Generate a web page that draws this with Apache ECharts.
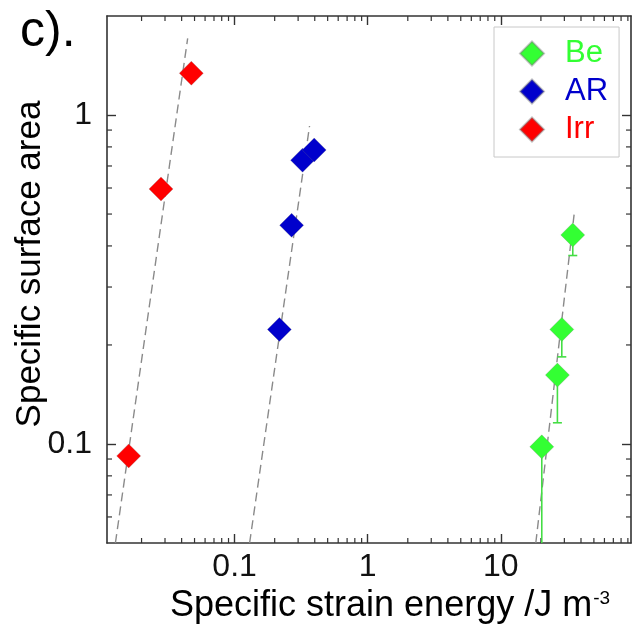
<!DOCTYPE html>
<html>
<head>
<meta charset="utf-8">
<script src="https://cdn.jsdelivr.net/npm/echarts@6/dist/echarts.min.js"></script>
<style>
  html, body { margin: 0; padding: 0; background: #fff; }
  #chart { width: 635px; height: 634px; }
</style>
</head>
<body>
<div id="chart"></div>
<script>
// Specific surface area vs specific strain energy (log-log)
const seriesNames = ['Be', 'AR', 'Irr'];

const beEnergy = [34.7, 28.7, 26.6, 20.3];
const beArea = [0.432, 0.223, 0.162, 0.098];
const beAreaLow = [0.374, 0.184, 0.116, 0.04];

const arEnergy = [0.217, 0.268, 0.324, 0.396];
const arArea = [0.223, 0.462, 0.729, 0.783];

const irrEnergy = [0.016, 0.028, 0.0473];
const irrArea = [0.092, 0.596, 1.34];

// power-law fit lines (end points)
const beFitEnergy = [18.3, 35.5];
const beFitArea = [0.05, 0.498];
const arFitEnergy = [0.1296, 0.3656];
const arFitArea = [0.05, 0.926];
const irrFitEnergy = [0.01272, 0.0444];
const irrFitArea = [0.05, 1.71];

const xRange = [0.011, 95];
const yRange = [0.05, 2];
const xTickValues = [0.1, 1, 10];
const yTickValues = [0.1, 1];
const xMinorValues = [0.02, 0.03, 0.04, 0.05, 0.06, 0.07, 0.08, 0.09,
                      0.2, 0.3, 0.4, 0.5, 0.6, 0.7, 0.8, 0.9,
                      2, 3, 4, 5, 6, 7, 8, 9,
                      20, 30, 40, 50, 60, 70, 80, 90];
const yMinorValues = [0.06, 0.07, 0.08, 0.09,
                      0.2, 0.3, 0.4, 0.5, 0.6, 0.7, 0.8, 0.9];

const colors = { Be: '#33ff33', AR: '#0000cc', Irr: '#ff0000' };
const errColor = '#44dd44';
const frameColor = '#333';
const fontFamily = '"Liberation Sans", Arial, Helvetica, sans-serif';

const chart = echarts.init(document.getElementById('chart'), null, { renderer: 'canvas' });

function frameAxis(extra) {
  return Object.assign({
    type: 'log',
    logBase: 10,
    axisLine: { show: true, onZero: false, lineStyle: { color: frameColor, width: 1.6 } },
    splitLine: { show: false },
    minorTick: { show: false },
  }, extra);
}

function minorTickSeries(values, horizontal) {
  return {
    type: 'custom',
    silent: true,
    z: 1,
    xAxisIndex: 0,
    yAxisIndex: 0,
    data: values.map(v => horizontal ? [v, yRange[0]] : [xRange[0], v]),
    renderItem: function (params, api) {
      const len = 5;
      const st = { stroke: frameColor, lineWidth: 1.2 };
      if (horizontal) {
        const v = api.value(0);
        const a = api.coord([v, yRange[0]]);
        const b = api.coord([v, yRange[1]]);
        return { type: 'group', children: [
          { type: 'line', shape: { x1: a[0], y1: a[1], x2: a[0], y2: a[1] - len }, style: st },
          { type: 'line', shape: { x1: b[0], y1: b[1], x2: b[0], y2: b[1] + len }, style: st }
        ] };
      }
      const v = api.value(1);
      const a = api.coord([xRange[0], v]);
      const b = api.coord([xRange[1], v]);
      return { type: 'group', children: [
        { type: 'line', shape: { x1: a[0], y1: a[1], x2: a[0] + len, y2: a[1] }, style: st },
        { type: 'line', shape: { x1: b[0], y1: b[1], x2: b[0] - len, y2: b[1] }, style: st }
      ] };
    }
  };
}

function fitLine(xs, ys) {
  return {
    type: 'line',
    silent: true,
    symbol: 'none',
    z: 2,
    data: xs.map((x, i) => [x, ys[i]]),
    lineStyle: { color: '#8a8a8a', width: 1.4, type: [9, 5] },
    clip: true
  };
}

function scatter(name, xs, ys) {
  return {
    name: name,
    type: 'scatter',
    symbol: 'diamond',
    symbolSize: 24,
    z: 5,
    data: xs.map((x, i) => [x, ys[i]]),
    itemStyle: { color: colors[name], borderColor: 'rgba(120,120,120,0.45)', borderWidth: 0.6, opacity: 1 }
  };
}

const option = {
  animation: false,
  backgroundColor: '#fff',
  grid: { left: 107, right: 4, top: 16, bottom: 91, containLabel: false },
  xAxis: [
    frameAxis({
      position: 'bottom', min: xRange[0], max: xRange[1],
      axisTick: { show: true, inside: true, length: 9, customValues: xTickValues,
                  lineStyle: { color: frameColor, width: 1.4 } },
      axisLabel: { show: true, customValues: xTickValues, margin: 8, fontSize: 32,
                   color: '#111', fontFamily: fontFamily, formatter: v => String(v) }
    }),
    frameAxis({
      position: 'top', min: xRange[0], max: xRange[1],
      axisTick: { show: true, inside: true, length: 9, customValues: xTickValues,
                  lineStyle: { color: frameColor, width: 1.4 } },
      axisLabel: { show: false }
    })
  ],
  yAxis: [
    frameAxis({
      position: 'left', min: yRange[0], max: yRange[1],
      axisTick: { show: true, inside: true, length: 9, customValues: yTickValues,
                  lineStyle: { color: frameColor, width: 1.4 } },
      axisLabel: { show: true, customValues: yTickValues, margin: 15, fontSize: 32,
                   color: '#111', fontFamily: fontFamily, formatter: v => String(v) }
    }),
    frameAxis({
      position: 'right', min: yRange[0], max: yRange[1],
      axisTick: { show: true, inside: true, length: 9, customValues: yTickValues,
                  lineStyle: { color: frameColor, width: 1.4 } },
      axisLabel: { show: false }
    })
  ],
  legend: {
    orient: 'vertical',
    left: 494,
    top: 27,
    icon: 'diamond',
    itemWidth: 24,
    itemHeight: 24,
    itemGap: 7,
    padding: [11, 11, 12, 25],
    borderColor: '#c8c8c8',
    borderWidth: 1,
    backgroundColor: '#fff',
    selectedMode: false,
    textStyle: { fontSize: 31, fontFamily: fontFamily, padding: [0, 0, 0, 16] },
    data: seriesNames.map(n => ({ name: n, textStyle: { color: colors[n] } }))
  },
  graphic: [
    {
      type: 'text', left: 20, top: 7, silent: true,
      style: { text: 'c).', font: '50px ' + fontFamily, fill: '#000' }
    },
    {
      type: 'text', x: 30, y: 264, rotation: Math.PI / 2, silent: true,
      style: { text: 'Specific surface area', font: '35px ' + fontFamily, fill: '#000',
               align: 'center', verticalAlign: 'middle' }
    },
    {
      type: 'text', x: 170, y: 606, silent: true,
      style: {
        text: 'Specific strain energy /J m{sup|-3}',
        font: '36px ' + fontFamily, fill: '#000', align: 'left', verticalAlign: 'middle',
        rich: { sup: { fontSize: 19, fontFamily: fontFamily, fill: '#000', padding: [0, 0, 14, 1] } }
      }
    }
  ],
  series: [
    minorTickSeries(xMinorValues, true),
    minorTickSeries(yMinorValues, false),
    fitLine(beFitEnergy, beFitArea),
    fitLine(arFitEnergy, arFitArea),
    fitLine(irrFitEnergy, irrFitArea),
    {
      type: 'custom',
      silent: true,
      z: 3,
      clip: true,
      data: beEnergy.map((x, i) => [x, beArea[i], beAreaLow[i]]),
      encode: { x: 0, y: [1, 2] },
      renderItem: function (params, api) {
        const c = api.coord([api.value(0), api.value(1)]);
        const l = api.coord([api.value(0), api.value(2)]);
        const st = { stroke: errColor, lineWidth: 1.6 };
        return { type: 'group', children: [
          { type: 'line', shape: { x1: c[0], y1: c[1], x2: l[0], y2: l[1] }, style: st },
          { type: 'line', shape: { x1: l[0] - 4.5, y1: l[1], x2: l[0] + 4.5, y2: l[1] }, style: st }
        ] };
      }
    },
    scatter('Be', beEnergy, beArea),
    scatter('AR', arEnergy, arArea),
    scatter('Irr', irrEnergy, irrArea)
  ]
};

chart.setOption(option);
</script>
</body>
</html>
